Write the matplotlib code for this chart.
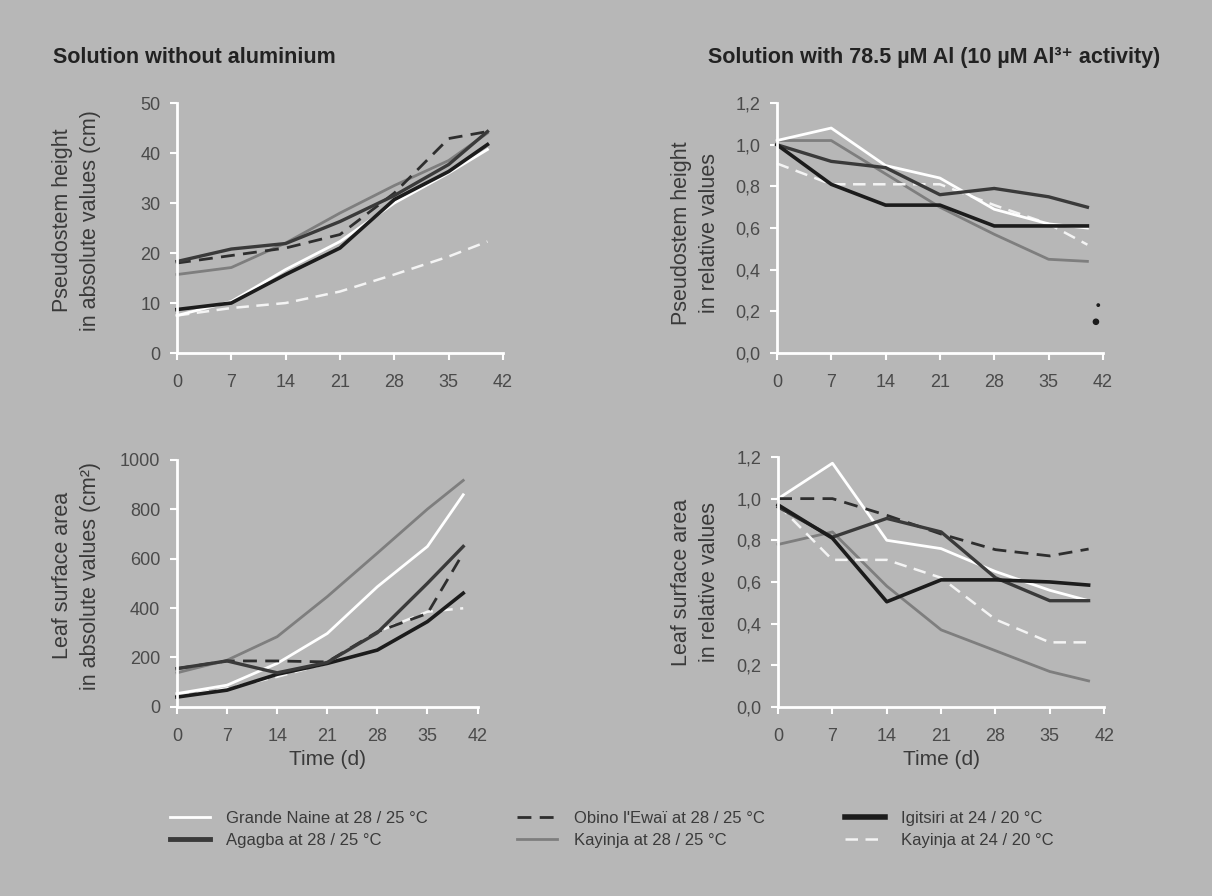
import matplotlib
matplotlib.use("Agg")
import matplotlib.pyplot as plt
from matplotlib.ticker import FuncFormatter

plt.rcParams['font.family'] = ['Liberation Sans', 'DejaVu Sans']

# sampling days
days = [0, 7, 14, 21, 28, 35, 40]

# pseudostem height, no Al (cm)
ph_abs_grande_naine = [7.5, 10.3, 16.7, 22.3, 30.0, 36.0, 40.7]
ph_abs_agagba = [18.3, 20.8, 21.9, 26.3, 31.5, 37.7, 44.3]
ph_abs_obino = [18.0, 19.5, 21.0, 23.7, 32.0, 42.9, 44.3]
ph_abs_kayinja28 = [15.7, 17.1, 22.0, 28.0, 33.5, 38.5, 44.0]
ph_abs_igitsiri = [8.7, 10.0, 15.7, 21.0, 30.7, 36.3, 41.7]
ph_abs_kayinja24 = [7.5, 9.0, 10.0, 12.3, 15.7, 19.3, 22.3]

# pseudostem height, with Al (relative)
ph_rel_grande_naine = [1.02, 1.08, 0.90, 0.84, 0.69, 0.62, 0.60]
ph_rel_agagba = [1.00, 0.92, 0.89, 0.76, 0.79, 0.75, 0.70]
ph_rel_kayinja28 = [1.02, 1.02, 0.86, 0.70, 0.57, 0.45, 0.44]
ph_rel_igitsiri = [1.00, 0.81, 0.71, 0.71, 0.61, 0.61, 0.61]
ph_rel_kayinja24 = [0.91, 0.81, 0.81, 0.81, 0.71, 0.62, 0.52]
ph_rel_dots_x = [41.1, 41.4]
ph_rel_dots_y = [0.15, 0.23]

# leaf surface area, no Al (cm2)
la_abs_grande_naine = [54, 88, 176, 297, 486, 649, 858]
la_abs_agagba = [155, 186, 138, 180, 300, 500, 649]
la_abs_obino = [155, 186, 186, 182, 304, 378, 622]
la_abs_kayinja28 = [138, 189, 284, 446, 622, 800, 916]
la_abs_igitsiri = [40, 68, 132, 176, 230, 345, 460]
la_abs_kayinja24 = [45, 75, 122, 176, 304, 385, 399]

# leaf surface area, with Al (relative)
la_rel_grande_naine = [1.00, 1.17, 0.80, 0.76, 0.65, 0.56, 0.51]
la_rel_agagba = [0.96, 0.815, 0.905, 0.84, 0.62, 0.51, 0.51]
la_rel_obino = [1.00, 1.00, 0.92, 0.83, 0.755, 0.725, 0.758]
la_rel_kayinja28 = [0.78, 0.84, 0.58, 0.37, 0.27, 0.17, 0.125]
la_rel_igitsiri = [0.97, 0.81, 0.505, 0.61, 0.61, 0.60, 0.585]
la_rel_kayinja24 = [0.97, 0.706, 0.706, 0.62, 0.42, 0.31, 0.31]

labels = ["Grande Naine at 28 / 25 °C", "Agagba at 28 / 25 °C",
          "Obino l'Ewaï at 28 / 25 °C", "Kayinja at 28 / 25 °C",
          "Igitsiri at 24 / 20 °C", "Kayinja at 24 / 20 °C"]

styles = {
    "gn": dict(color="white", lw=2, ls="-"),
    "ag": dict(color="#3a3a3a", lw=2.4, ls="-"),
    "ob": dict(color="#2e2e2e", lw=2, ls=(0, (5, 3))),
    "k28": dict(color="#7e7e7e", lw=2, ls="-"),
    "ig": dict(color="#1c1c1c", lw=2.6, ls="-"),
    "k24": dict(color="#f4f4f4", lw=1.8, ls=(0, (5, 3))),
}

bg = "#b7b7b7"
tick_col = "#4a4a4a"
txt_col = "#3a3a3a"
fig = plt.figure(figsize=(12.12, 8.96), dpi=100, facecolor=bg)


def make_ax(rect, ylim, yticks, comma):
    ax = fig.add_axes(rect)
    ax.set_facecolor("none")
    for s in ["top", "right"]:
        ax.spines[s].set_visible(False)
    for s in ["left", "bottom"]:
        ax.spines[s].set_color("white")
        ax.spines[s].set_linewidth(2)
    ax.set_xlim(0, 42)
    ax.set_ylim(*ylim)
    ax.set_xticks(range(0, 43, 7))
    ax.set_yticks(yticks)
    if comma:
        ax.yaxis.set_major_formatter(FuncFormatter(lambda v, p: f"{v:.1f}".replace(".", ",")))
    ax.tick_params(colors="white", labelcolor=tick_col, labelsize=13, width=1.5, length=5)
    ax.tick_params(axis="x", pad=10)
    ax.tick_params(axis="y", pad=7)
    return ax


W = 0.269
ax1 = make_ax([0.146, 0.606, W, 0.279], (0, 50), range(0, 51, 10), False)
ax2 = make_ax([0.641, 0.606, W, 0.279], (0, 1.2), [0, 0.2, 0.4, 0.6, 0.8, 1.0, 1.2], True)
ax3 = make_ax([0.146, 0.211, 0.248, 0.276], (0, 1000), range(0, 1001, 200), False)
ax4 = make_ax([0.642, 0.211, W, 0.279], (0, 1.2), [0, 0.2, 0.4, 0.6, 0.8, 1.0, 1.2], True)

# top left
for key, ys in [("k28", ph_abs_kayinja28), ("ob", ph_abs_obino), ("ag", ph_abs_agagba),
                ("k24", ph_abs_kayinja24), ("gn", ph_abs_grande_naine), ("ig", ph_abs_igitsiri)]:
    ax1.plot(days, ys, clip_on=False, **styles[key])
# top right
for key, ys in [("k28", ph_rel_kayinja28), ("k24", ph_rel_kayinja24), ("gn", ph_rel_grande_naine),
                ("ag", ph_rel_agagba), ("ig", ph_rel_igitsiri)]:
    ax2.plot(days, ys, clip_on=False, **styles[key])
ax2.scatter(ph_rel_dots_x, ph_rel_dots_y, s=[14, 3], color="#1c1c1c", clip_on=False)
# bottom left
for key, ys in [("k28", la_abs_kayinja28), ("k24", la_abs_kayinja24), ("gn", la_abs_grande_naine),
                ("ob", la_abs_obino), ("ig", la_abs_igitsiri), ("ag", la_abs_agagba)]:
    ax3.plot(days, ys, clip_on=False, **styles[key])
# bottom right
for key, ys in [("k28", la_rel_kayinja28), ("k24", la_rel_kayinja24), ("gn", la_rel_grande_naine),
                ("ob", la_rel_obino), ("ag", la_rel_agagba), ("ig", la_rel_igitsiri)]:
    ax4.plot(days, ys, clip_on=False, **styles[key])

lab_kw = dict(fontsize=15.5, color=txt_col, linespacing=1.45)
ax1.set_ylabel("Pseudostem height\nin absolute values (cm)", **lab_kw)
ax2.set_ylabel("Pseudostem height\nin relative values", **lab_kw)
ax3.set_ylabel("Leaf surface area\nin absolute values (cm²)", **lab_kw)
ax4.set_ylabel("Leaf surface area\nin relative values", **lab_kw)
ax1.yaxis.set_label_coords(-0.233, 0.53)
ax2.yaxis.set_label_coords(-0.175, 0.48)
ax3.yaxis.set_label_coords(-0.253, 0.53)
ax4.yaxis.set_label_coords(-0.178, 0.5)
ax3.set_xlabel("Time (d)", fontsize=15, color=txt_col, labelpad=4)
ax4.set_xlabel("Time (d)", fontsize=15, color=txt_col, labelpad=4)

fig.text(0.044, 0.93, "Solution without aluminium", fontsize=15.5, fontweight="bold", color="#222222")
fig.text(0.584, 0.93, "Solution with 78.5 µM Al (10 µM Al³⁺ activity)", fontsize=15.5,
         fontweight="bold", color="#222222")

order = ["gn", "ag", "ob", "k28", "ig", "k24"]
handles = [plt.Line2D([], [], **styles[k]) for k in order]
handles[4].set_linewidth(4)
handles[1].set_linewidth(3.5)
leg_x = [0.133, 0.42, 0.69]
for i, x in enumerate(leg_x):
    leg = fig.legend(handles[2 * i:2 * i + 2], labels[2 * i:2 * i + 2], loc="upper left",
                     bbox_to_anchor=(x, 0.104), frameon=False, fontsize=12,
                     handlelength=2.4, handletextpad=1.0, labelspacing=0.4, borderpad=0)
    for t in leg.get_texts():
        t.set_color(txt_col)

fig.savefig("out.png", dpi=100, facecolor=bg)
